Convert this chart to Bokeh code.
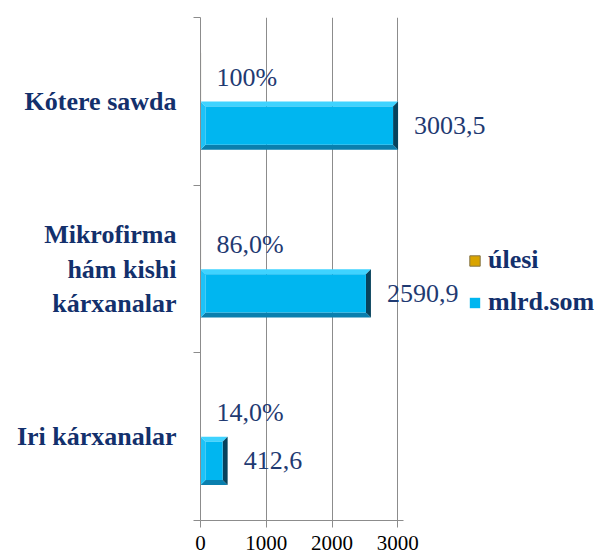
from bokeh.plotting import figure
from bokeh.models import Range1d, FixedTicker, ColumnDataSource, Legend, LegendItem
from bokeh.core.properties import value
from bokeh.embed import file_html
from bokeh.resources import INLINE

# ---- data ----
categories = ["Iri kárxanalar", "Mikrofirma\nhám kishi\nkárxanalar", "Kótere sawda"]
mlrd_som = [412.6, 2590.9, 3003.5]
ulesi = [0.14, 0.86, 1.00]
mlrd_labels = ["412,6", "2590,9", "3003,5"]
ulesi_labels = ["14,0%", "86,0%", "100%"]
x_ticks = [0, 1000, 2000, 3000]
series_names = ["úlesi", "mlrd.som"]

NAVY = "#1F3A72"
NAVY_B = "#13306C"
GRID = "#8C8C8C"
FONT = "Liberation Serif"

p = figure(width=596, height=553, output_backend="svg", toolbar_location=None,
           x_range=Range1d(0, 6020), y_range=Range1d(0, 3),
           min_border_left=200, min_border_right=0, min_border_top=17, min_border_bottom=33)
p.outline_line_color = None
p.background_fill_color = "white"
p.border_fill_color = "white"
p.ygrid.visible = False
p.xgrid.ticker = FixedTicker(ticks=x_ticks[1:])
p.xgrid.grid_line_color = GRID

# x axis
xa = p.xaxis[0]
xa.ticker = FixedTicker(ticks=x_ticks)
xa.bounds = (0, 3080)
xa.axis_line_color = GRID
xa.major_tick_line_color = GRID
xa.major_tick_out = 7
xa.major_tick_in = 0
xa.minor_tick_line_color = None
xa.major_label_text_font = FONT
xa.major_label_text_font_size = "21px"
xa.major_label_text_color = "black"
xa.major_label_standoff = 8

# y axis (categories)
n = len(categories)
centers = [i + 0.5 for i in range(n)]
ya = p.yaxis[0]
ya.ticker = FixedTicker(ticks=centers, minor_ticks=list(range(n + 1)))
ya.major_label_overrides = {c: lab for c, lab in zip(centers, categories)}
ya.axis_line_color = GRID
ya.major_tick_line_color = None
ya.major_tick_out = 7
ya.minor_tick_line_color = GRID
ya.minor_tick_out = 7
ya.minor_tick_in = 0
ya.major_label_text_font = FONT
ya.major_label_text_font_style = "bold"
ya.major_label_text_font_size = "26px"
ya.major_label_text_color = NAVY_B
ya.major_label_standoff = 17

# geometry of bars in the band
off = 0.145
h = 0.288
y_or = [c + off for c in centers]
y_bl = [c - off for c in centers]

# orange (úlesi) bars — tiny
src_o = ColumnDataSource(dict(y=y_or, right=ulesi, lab=ulesi_labels))
r_or = p.hbar(y="y", left=0, right="right", height=h, source=src_o,
              fill_color="#D9A400", line_color="#857446", line_width=1)

# blue bars with bevel
ex = 5 / (396 / 6020)   # 5 px in data units
ey = 5 / (503 / 3)
face_src = ColumnDataSource(dict(left=[ex] * n, right=[max(v - ex, ex) for v in mlrd_som],
                                 top=[y + h / 2 - ey for y in y_bl],
                                 bottom=[y - h / 2 + ey for y in y_bl]))
xs, ys, cols = [], [], []
for v, yc in zip(mlrd_som, y_bl):
    x0, x1 = 0, v
    y0, y1 = yc - h / 2, yc + h / 2
    xs.append([x0, x1, x1 - ex, x0 + ex]); ys.append([y1, y1, y1 - ey, y1 - ey]); cols.append("#3FD3FF")
    xs.append([x0, x1, x1 - ex, x0 + ex]); ys.append([y0, y0, y0 + ey, y0 + ey]); cols.append("#0A7FAE")
    xs.append([x0, x0, x0 + ex, x0 + ex]); ys.append([y0, y1, y1 - ey, y0 + ey]); cols.append("#1EC2F7")
    xs.append([x1, x1, x1 - ex, x1 - ex]); ys.append([y0, y1, y1 - ey, y0 + ey]); cols.append("#07425C")
p.patches(xs="xs", ys="ys", fill_color="cols", line_color=None,
          source=ColumnDataSource(dict(xs=xs, ys=ys, cols=cols)))
r_bl = p.quad(left="left", right="right", top="top", bottom="bottom", source=face_src,
              fill_color="#00B6F0", line_color=None)

# data labels
src_b = ColumnDataSource(dict(y=y_bl, x=mlrd_som, lab=mlrd_labels))
p.text(x="right", y="y", text="lab", source=src_o, x_offset=16,
       text_align="left", text_baseline="middle", text_font=value(FONT),
       text_font_size="26px", text_color=NAVY)
p.text(x="x", y="y", text="lab", source=src_b, x_offset=16,
       text_align="left", text_baseline="middle", text_font=value(FONT),
       text_font_size="26px", text_color=NAVY)

# legend
legend = Legend(items=[LegendItem(label=series_names[0], renderers=[r_or]),
                       LegendItem(label=series_names[1], renderers=[r_bl])],
                location=(268, 203), orientation="vertical",
                glyph_width=13, glyph_height=13, label_standoff=7, spacing=12,
                padding=0, margin=0, border_line_color=None, background_fill_alpha=0,
                label_text_font=FONT, label_text_font_style="bold",
                label_text_font_size="26px", label_text_color=NAVY_B)
p.add_layout(legend, "center")

open("out.html", "w").write(file_html(p, INLINE))
